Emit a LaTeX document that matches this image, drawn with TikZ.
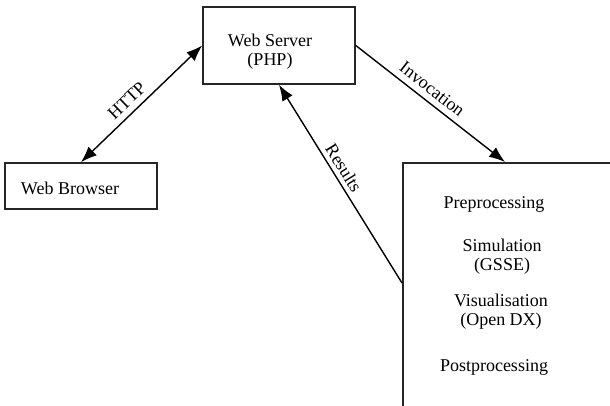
\documentclass[tikz,border=0pt]{standalone}
\usepackage{fontspec}
\setmainfont{Liberation Serif}
\usetikzlibrary{positioning, arrows.meta, calc}

\begin{document}
\begin{tikzpicture}[
    x=0.5pt, y=-0.5pt,
    >={Latex[length=8pt, width=6pt]},
    font=\fontsize{9}{9.5}\selectfont,
    % Styles
    block/.style={
        draw, rectangle, line width=0.8pt, draw=black!85,
        minimum width=76pt, inner sep=0pt
    },
    txt/.style={align=center, inner sep=0pt},
    link/.style={<->, line width=0.7pt},
    flow/.style={->, line width=0.7pt},
    linklabel/.style={sloped, above, inner sep=2pt}
  ]

    \clip (0,0) rectangle (610,406);

    % --- Blocks ---
    \node (server)  [block, minimum height=38.5pt] at (279,45.5) {};
    \node (browser) [block, minimum height=23pt] at (81,186) {};
    \node (sim) [block, minimum width=125pt, minimum height=130pt, anchor=north west] at (402,162) {};

    % --- Block texts ---
    \node[txt] at (server.center) [xshift=-4.5pt, yshift=-3.25pt] {Web Server\\(PHP)};
    \node[txt] at (browser.center) [xshift=-5.5pt, yshift=-1pt] {Web Browser};
    \node (pre)  [txt] at ($(sim.north west)+(92,42)$) {Preprocessing};
    \node (gsse) [txt] at ($(sim.north west)+(100,95)$) {Simulation\\(GSSE)};
    \node (odx)  [txt] at ($(sim.north west)+(99,150)$) {Visualisation\\(Open DX)};
    \node (post) [txt] at ($(sim.north west)+(92,205)$) {Postprocessing};

    % --- Connector ends on the simulation block ---
    \coordinate (sim_in)  at ($(sim.north west)+(103,0)$);
    \coordinate (sim_out) at ($(sim.north west)+(0,121)$);

    % --- Connectors ---
    \draw[link] (browser.north) -- (server.west) node[linklabel, pos=0.45, inner sep=3pt] {HTTP};
    \draw[flow] (server.east) -- (sim_in) node[linklabel, pos=0.46, inner sep=3pt] {Invocation};
    \draw[flow] (sim_out) -- (server.south) node[linklabel, pos=0.55] {Results};

  \end{tikzpicture}
\end{document}
